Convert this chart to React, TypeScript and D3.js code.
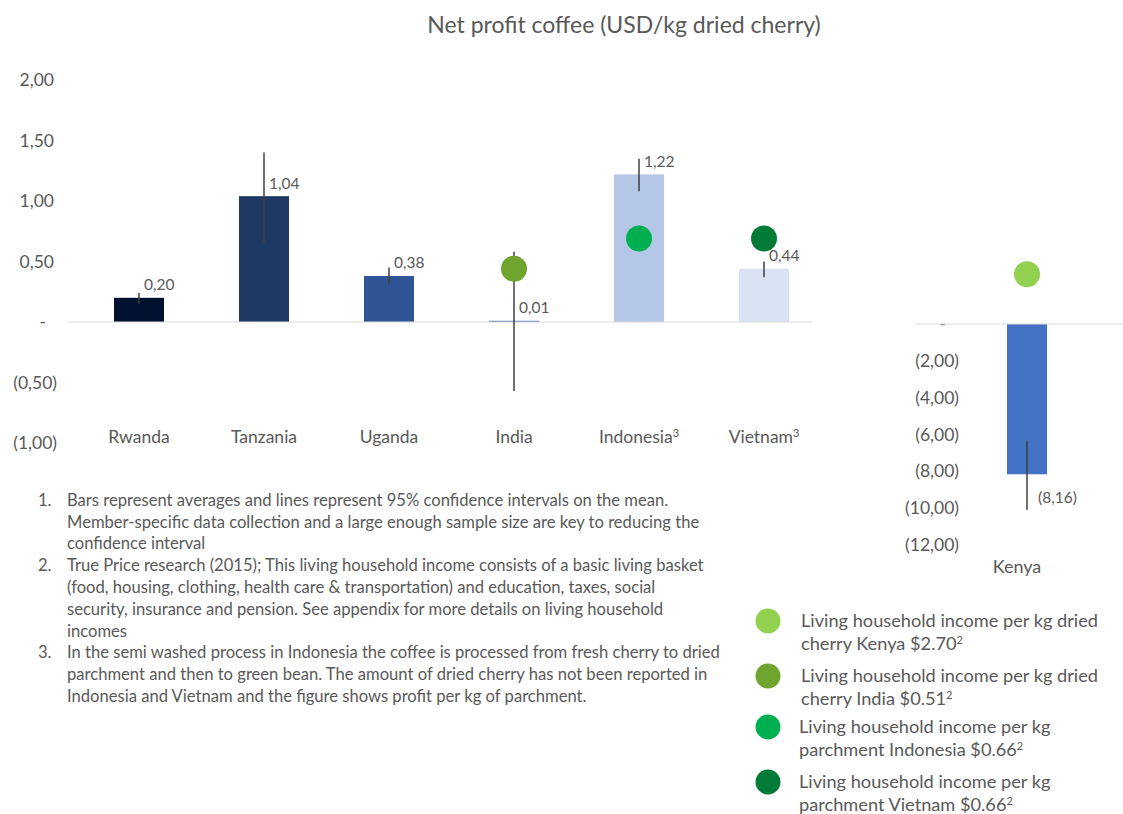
import React from "react";
import * as d3 from "d3";

const categories = ["Rwanda", "Tanzania", "Uganda", "India", "Indonesia", "Vietnam"];
const superscripts = ["", "", "", "", "3", "3"];
const profit = [0.2, 1.04, 0.38, 0.01, 1.22, 0.44];
const ciLow = [0.15, 0.66, 0.31, -0.57, 1.08, 0.37];
const ciHigh = [0.24, 1.4, 0.45, 0.58, 1.35, 0.5];
const barColors = ["#00112F", "#203864", "#2F5597", "#4472C4", "#B4C7E7", "#DAE3F3"];

const incomeCountries = ["India", "Indonesia", "Vietnam"];
const incomeValues = [0.44, 0.69, 0.69];
const incomeColors = ["#6FA42F", "#00B050", "#007A37"];

const kenyaCategory = ["Kenya"];
const kenyaProfit = [-8.16];
const kenyaCiLow = [-10.08];
const kenyaCiHigh = [-6.32];
const kenyaIncome = [2.7];
const kenyaColor = "#4472C4";
const kenyaIncomeColor = "#92D050";

const mainTicks = [2, 1.5, 1, 0.5, 0, -0.5, -1];
const kenyaTicks = [0, -2, -4, -6, -8, -10, -12];

const legendLines = [
  ["Living household income per kg dried", "cherry Kenya $2.70"],
  ["Living household income per kg dried", "cherry India $0.51"],
  ["Living household income per kg", "parchment Indonesia $0.66"],
  ["Living household income per kg", "parchment Vietnam $0.66"],
];
const legendColors = ["#92D050", "#6FA42F", "#00B050", "#007A37"];

const footnoteNums = ["1.", "2.", "3."];
const footnotes = [
  [
    "Bars represent averages and lines represent 95% confidence intervals on the mean.",
    "Member-specific data collection and a large enough sample size are key to reducing the",
    "confidence interval",
  ],
  [
    "True Price research (2015); This living household income consists of a basic living basket",
    "(food, housing, clothing, health care & transportation) and education, taxes, social",
    "security, insurance and pension. See appendix for more details on living household",
    "incomes",
  ],
  [
    "In the semi washed process in Indonesia the coffee is processed from fresh cherry to dried",
    "parchment and then to green bean. The amount of dried cherry has not been reported in",
    "Indonesia and Vietnam and the figure shows profit per kg of parchment.",
  ],
];

const TEXT = "#595959";
const FONT = "Lato, 'Open Sans', sans-serif";

const fmtNum = (v: number) => d3.format(".2f")(Math.abs(v)).replace(".", ",");
const fmtTick = (v: number) => (v === 0 ? "-" : v < 0 ? `(${fmtNum(v)})` : fmtNum(v));

export default function App() {
  const W = 1123;
  const H = 814;

  const x = d3
    .scaleBand<string>()
    .domain(categories)
    .range([76.5, 826.5])
    .paddingInner(0.6)
    .paddingOuter(0.3);
  const y = d3.scaleLinear().domain([-1, 2]).range([443, 80]);

  const xk = d3.scalePoint<string>().domain(kenyaCategory).range([931, 1123]).padding(0.5);
  const yk = d3.scaleLinear().domain([-12, 4]).range([545, 250.3]);
  const kBarW = 40;

  const cx = (c: string) => (x(c) as number) + x.bandwidth() / 2;

  let lineY = 500;
  const footLines: { num?: string; text: string; y: number }[] = [];
  footnotes.forEach((block, i) => {
    block.forEach((t, j) => {
      footLines.push({ num: j === 0 ? footnoteNums[i] : undefined, text: t, y: lineY });
      lineY += 21.8;
    });
  });

  const legendY = [621, 676, 727, 782];

  return (
    <svg
      width={W}
      height={H}
      style={{ position: "absolute", left: 0, top: 0, background: "#fff" }}
      fontFamily={FONT}
    >
      <rect width={W} height={H} fill="#fff" />
      <text x={624} y={25} dy="0.35em" textAnchor="middle" fontSize={23} fill={TEXT}>
        Net profit coffee (USD/kg dried cherry)
      </text>

      {/* main y axis labels */}
      {mainTicks.map((t) => (
        <text
          key={t}
          x={t === 0 ? 46 : t < 0 ? 57 : 54}
          y={y(t)}
          dy="0.35em"
          textAnchor="end"
          fontSize={17.5}
          fill={TEXT}
        >
          {fmtTick(t)}
        </text>
      ))}

      {/* bars */}
      {categories.map((c, i) => (
        <rect
          key={c}
          x={x(c)}
          y={y(Math.max(0, profit[i]))}
          width={x.bandwidth()}
          height={Math.max(1, Math.abs(y(profit[i]) - y(0)))}
          fill={barColors[i]}
        />
      ))}

      {/* zero axis line */}
      <line x1={67} x2={812} y1={y(0)} y2={y(0)} stroke="#D9D9D9" strokeWidth={1.2} />

      {/* error bars */}
      {categories.map((c, i) => (
        <line
          key={c}
          x1={cx(c)}
          x2={cx(c)}
          y1={y(ciHigh[i])}
          y2={y(ciLow[i])}
          stroke="#404040"
          strokeWidth={1.5}
        />
      ))}

      {/* living income dots */}
      {incomeCountries.map((c, i) => (
        <circle key={c} cx={cx(c)} cy={y(incomeValues[i])} r={13} fill={incomeColors[i]} />
      ))}

      {/* data labels */}
      {categories.map((c, i) => (
        <text
          key={c}
          x={cx(c) + 5}
          y={y(profit[i]) - 13}
          dy="0.35em"
          fontSize={15.5}
          fill={TEXT}
        >
          {fmtNum(profit[i])}
        </text>
      ))}

      {/* category labels */}
      {categories.map((c, i) => (
        <text key={c} x={cx(c)} y={437} dy="0.35em" textAnchor="middle" fontSize={17.5} fill={TEXT}>
          {c}
          {superscripts[i] && (
            <tspan fontSize={11} dy="-0.6em">
              {superscripts[i]}
            </tspan>
          )}
        </text>
      ))}

      {/* Kenya panel */}
      {kenyaTicks.map((t) => (
        <text
          key={t}
          x={t === 0 ? 946 : 959}
          y={yk(t)}
          dy="0.35em"
          textAnchor="end"
          fontSize={17.5}
          fill={TEXT}
        >
          {fmtTick(t)}
        </text>
      ))}
      {kenyaCategory.map((c, i) => (
        <rect
          key={c}
          x={(xk(c) as number) - kBarW / 2}
          y={yk(Math.max(0, kenyaProfit[i]))}
          width={kBarW}
          height={Math.abs(yk(kenyaProfit[i]) - yk(0))}
          fill={kenyaColor}
        />
      ))}
      <line x1={915} x2={1123} y1={yk(0)} y2={yk(0)} stroke="#D9D9D9" strokeWidth={1.2} />
      {kenyaCategory.map((c, i) => (
        <g key={c}>
          <line
            x1={xk(c)}
            x2={xk(c)}
            y1={yk(kenyaCiHigh[i])}
            y2={yk(kenyaCiLow[i])}
            stroke="#404040"
            strokeWidth={1.5}
          />
          <circle cx={xk(c)} cy={yk(kenyaIncome[i])} r={13} fill={kenyaIncomeColor} />
          <text
            x={(xk(c) as number) + 11}
            y={yk(kenyaProfit[i]) + 23}
            dy="0.35em"
            fontSize={15.5}
            fill={TEXT}
          >
            {`(${fmtNum(kenyaProfit[i])})`}
          </text>
          <text
            x={(xk(c) as number) - 10}
            y={567}
            dy="0.35em"
            textAnchor="middle"
            fontSize={18}
            fill={TEXT}
          >
            {c}
          </text>
        </g>
      ))}

      {/* footnotes */}
      {footLines.map((l, i) => (
        <g key={i}>
          {l.num && (
            <text x={38} y={l.y} dy="0.35em" fontSize={16.6} fill={TEXT}>
              {l.num}
            </text>
          )}
          <text x={67} y={l.y} dy="0.35em" fontSize={16.6} fill={TEXT}>
            {l.text}
          </text>
        </g>
      ))}

      {/* legend */}
      {legendLines.map((lines, i) => (
        <g key={i}>
          <circle cx={768} cy={legendY[i]} r={12.5} fill={legendColors[i]} />
          <text x={i < 2 ? 801 : 799} y={legendY[i]} dy="0.35em" fontSize={18.2} fill={TEXT}>
            {lines[0]}
          </text>
          <text x={i < 2 ? 801 : 799} y={legendY[i] + 23} dy="0.35em" fontSize={18.2} fill={TEXT}>
            {lines[1]}
            <tspan fontSize={11} dy="-0.6em">
              2
            </tspan>
          </text>
        </g>
      ))}
    </svg>
  );
}
